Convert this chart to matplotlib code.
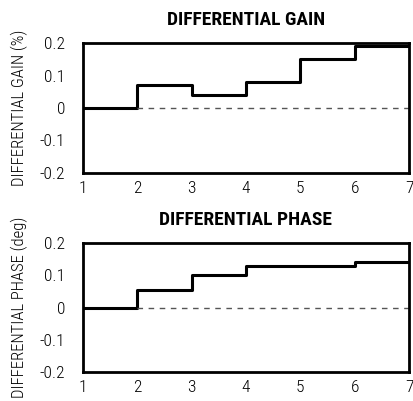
import matplotlib
matplotlib.use("Agg")
import matplotlib.pyplot as plt

# data
steps = [1, 2, 3, 4, 5, 6, 7]
gain = [0, 0.07, 0.04, 0.08, 0.15, 0.19]
phase = [0, 0.055, 0.10, 0.13, 0.13, 0.14]
yticks = [-0.2, -0.1, 0, 0.1, 0.2]
ytick_labels = ['-0.2', '-0.1', '0', '0.1', '0.2']

plt.rcParams['font.family'] = ['Roboto Condensed', 'DejaVu Sans']

fig = plt.figure(figsize=(4.14, 4.01), dpi=100)
W, H = 414, 401
panels = [
    (gain, 'DIFFERENTIAL GAIN', 'DIFFERENTIAL GAIN (%)', 43, 173),
    (phase, 'DIFFERENTIAL PHASE', 'DIFFERENTIAL PHASE (deg)', 243, 372),
]

for vals, title, ylab, top, bot in panels:
    ax = fig.add_axes([83 / W, 1 - bot / H, (409 - 83) / W, (bot - top) / H])
    ax.step(steps, vals + [vals[-1]], where='post', color='black', lw=2.2)
    ax.plot([2, 7], [0, 0], color='#555555', lw=1, ls=(0, (4, 4)))
    ax.set_xlim(1, 7)
    ax.set_ylim(-0.2, 0.2)
    ax.set_xticks(steps)
    ax.set_yticks(yticks)
    ax.set_yticklabels(ytick_labels)
    ax.tick_params(axis='y', length=0, labelsize=12.5, pad=13)
    ax.tick_params(axis='x', length=0, labelsize=12.5, pad=6)
    for lab in ax.get_xticklabels() + ax.get_yticklabels():
        lab.set_fontweight('light')
    for s in ax.spines.values():
        s.set_linewidth(2)
    ax.set_title(title, fontsize=14, fontweight='bold', pad=13)
    ax.set_ylabel(ylab, fontsize=12, fontweight='light', labelpad=8)

fig.savefig('out.png', dpi=100)
